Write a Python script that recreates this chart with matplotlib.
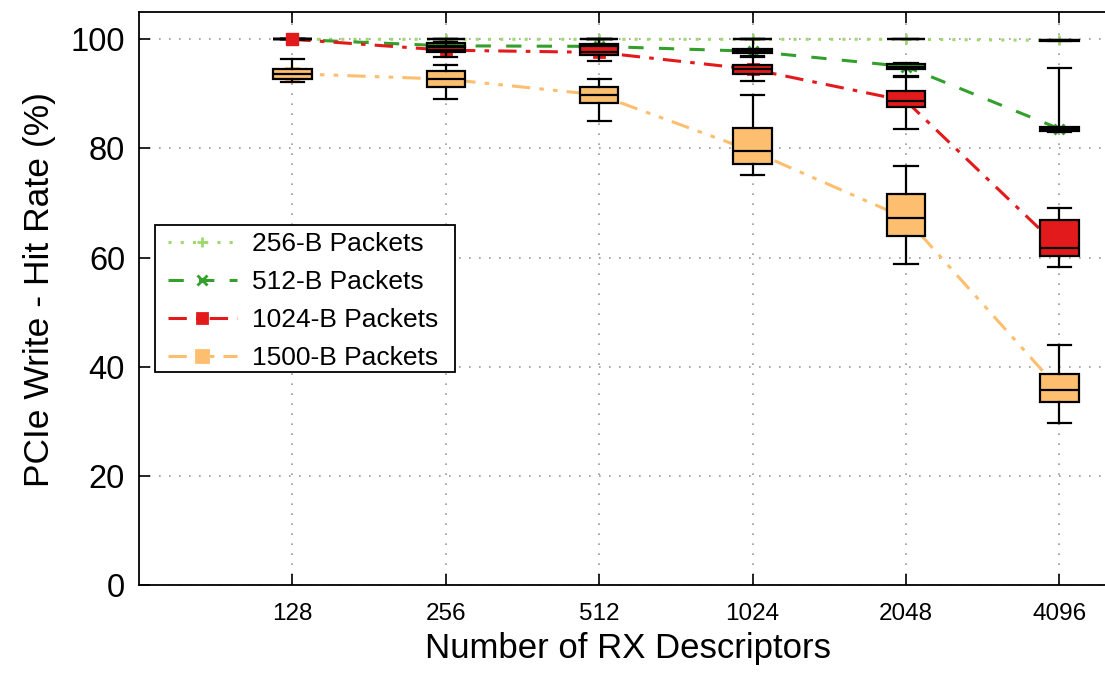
import matplotlib
matplotlib.use("Agg")
import matplotlib.pyplot as plt
from matplotlib.lines import Line2D
from matplotlib.patches import Rectangle

plt.rcParams['font.family'] = ['Liberation Sans', 'DejaVu Sans']

categories = ['128', '256', '512', '1024', '2048', '4096']
series_names = ['256-B Packets', '512-B Packets', '1024-B Packets', '1500-B Packets']

# box statistics per series: lower whisker, Q1, median, Q3, upper whisker
p256_lo = [100, 100, 100, 100, 100, 99.7]
p256_q1 = [100, 100, 100, 100, 100, 99.7]
p256_med = [100, 100, 100, 100, 100, 99.8]
p256_q3 = [100, 100, 100, 100, 100, 99.9]
p256_hi = [100, 100, 100, 100, 100, 99.9]

p512_lo = [100, 98.0, 98.0, 96.7, 93.3, 83.0]
p512_q1 = [100, 98.5, 98.4, 97.4, 94.6, 83.2]
p512_med = [100, 98.8, 98.7, 97.8, 95.0, 83.6]
p512_q3 = [100, 99.3, 99.1, 98.2, 95.4, 84.0]
p512_hi = [100, 100, 100, 100, 95.6, 94.8]

p1024_lo = [100, 96.7, 96.0, 92.3, 83.5, 58.3]
p1024_q1 = [100, 97.6, 97.1, 93.6, 87.5, 60.2]
p1024_med = [100, 98.0, 97.6, 94.5, 88.7, 61.8]
p1024_q3 = [100, 98.5, 99.0, 95.3, 90.5, 66.9]
p1024_hi = [100, 99.5, 100, 97.0, 93.0, 69.1]

p1500_lo = [92.2, 89.0, 85.0, 75.2, 58.8, 29.7]
p1500_q1 = [92.8, 91.3, 88.3, 77.1, 63.9, 33.5]
p1500_med = [93.7, 92.7, 89.8, 79.5, 67.2, 35.8]
p1500_q3 = [94.6, 94.1, 91.3, 83.8, 71.7, 38.7]
p1500_hi = [96.3, 95.3, 92.8, 89.7, 76.8, 43.9]

y_ticks = [0, 20, 40, 60, 80, 100]

series = [
    (p256_lo, p256_q1, p256_med, p256_q3, p256_hi),
    (p512_lo, p512_q1, p512_med, p512_q3, p512_hi),
    (p1024_lo, p1024_q1, p1024_med, p1024_q3, p1024_hi),
    (p1500_lo, p1500_q1, p1500_med, p1500_q3, p1500_hi),
]
colors = ['#a0d870', '#33a02c', '#e31a1c', '#fdbf6f']
linestyles = [(0, (1, 3)), (0, (5, 5)), (0, (6, 3, 1.5, 3)), (0, (6, 3, 1.5, 3, 1.5, 3))]
markers = ['+', 'x', 's', 's']
msizes = [7, 7, 7, 9]

W, H = 1105, 677
XMAX = 6.38
fig = plt.figure(figsize=(W / 100, H / 100), dpi=100)
ax = fig.add_axes([139 / W, 92 / H, XMAX * 153.4 / W, 573 / H])

pos = list(range(1, len(categories) + 1))

# grid
ax.set_axisbelow(True)
ax.grid(True, color='#999999', linestyle=(0, (1, 5)), linewidth=1.2)

handles = []
for i, (lo, q1, med, q3, hi) in enumerate(series):
    ax.plot(pos, med, color=colors[i], linestyle=linestyles[i], linewidth=2.2,
            marker=markers[i], markersize=msizes[i], markeredgewidth=2,
            markerfacecolor=colors[i], zorder=2)
    stats = [dict(whislo=lo[k], q1=q1[k], med=med[k], q3=q3[k], whishi=hi[k], fliers=[])
             for k in range(len(categories))]
    ax.bxp(stats, positions=pos, widths=0.25, capwidths=0.15, patch_artist=True,
           showfliers=False, manage_ticks=False, zorder=3,
           boxprops=dict(facecolor=colors[i], edgecolor='black', linewidth=1.6),
           medianprops=dict(color='black', linewidth=1.6),
           whiskerprops=dict(color='black', linewidth=1.6),
           capprops=dict(color='black', linewidth=1.6))
    handles.append(Line2D([], [], color=colors[i], linestyle=linestyles[i], linewidth=2.2,
                          marker=markers[i], markersize=msizes[i], markeredgewidth=2,
                          markerfacecolor=colors[i]))

# red marker visible at 128 on top
ax.plot(pos[:1], p1024_med[:1], linestyle='none', marker='s', markersize=8,
        color=colors[2], zorder=4)

ax.set_xlim(0, XMAX)
ax.set_ylim(0, 105)
ax.set_xticks(pos)
ax.set_xticklabels(categories, fontsize=17.5)
ax.set_yticks(y_ticks)
ax.set_yticklabels([str(v) for v in y_ticks], fontsize=23.5)
ax.tick_params(axis='both', direction='in', length=8, width=1.2, top=True, right=True)
ax.tick_params(axis='x', pad=13)
ax.tick_params(axis='y', pad=10)
for s in ax.spines.values():
    s.set_linewidth(1.3)
    s.set_color('black')

ax.set_xlabel('Number of RX Descriptors', fontsize=25, labelpad=5)
ax.set_ylabel('PCIe Write - Hit Rate (%)', fontsize=25.5, labelpad=10)
ax.yaxis.set_label_coords(-0.085, 0.515)

# legend frame
frame = Rectangle((155 / W, 1 - 372 / H), 300 / W, 147 / H, transform=fig.transFigure,
                  facecolor='white', edgecolor='black', linewidth=1.3, zorder=4.9,
                  clip_on=False)
ax.add_patch(frame)

leg = ax.legend(handles, series_names, loc='upper left',
                bbox_to_anchor=(168 / W, 1 - 232 / H), bbox_transform=fig.transFigure,
                borderaxespad=0, frameon=False,
                fontsize=19, handlelength=2.6, labelspacing=0.53, borderpad=0,
                handletextpad=0.6)
leg.set_zorder(5)

fig.savefig('out.png', dpi=100)
